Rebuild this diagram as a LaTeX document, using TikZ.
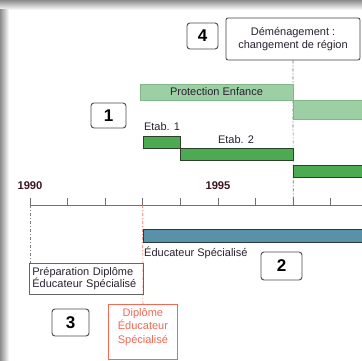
\documentclass[tikz,border=0pt]{standalone}
\usepackage{fontspec}
\setmainfont{Liberation Sans}
\usetikzlibrary{positioning}

\definecolor{palegreen}{RGB}{156,207,164}
\definecolor{palegreenedge}{RGB}{128,182,138}
\definecolor{etabgreen}{RGB}{76,170,80}
\definecolor{etabedge}{RGB}{45,62,45}
\definecolor{edublue}{RGB}{88,145,168}
\definecolor{eduedge}{RGB}{42,56,66}
\definecolor{diplred}{RGB}{243,104,84}
\definecolor{axisgray}{RGB}{112,112,112}
\definecolor{yearcol}{RGB}{62,22,34}
\definecolor{labelcol}{RGB}{40,34,48}

\begin{document}
\begin{tikzpicture}[x=1pt,y=-1pt,font=\fontsize{11}{13.5}\selectfont,text=labelcol,
  numbox/.style={draw=black!70,rounded corners=3pt,line width=0.9pt,inner sep=0pt,text=black,font=\fontsize{17}{17}\selectfont\bfseries},
  bar/.style={anchor=north west,inner sep=0pt,outer sep=0pt,line width=0.8pt},
  palebar/.style={bar,fill=palegreen,draw=palegreenedge},
  etabbar/.style={bar,fill=etabgreen,draw=etabedge},
  edubar/.style={bar,fill=edublue,draw=eduedge},
  yearlabel/.style={inner sep=0pt,text=yearcol,font=\fontsize{11.2}{12}\selectfont\bfseries},
  guide/.style={line width=0.7pt,dash pattern=on 3pt off 2pt on 1pt off 2pt}]

\useasboundingbox (0,0) rectangle (362,361);
\fill[white] (0,0) rectangle (362,361);
% frame shadow
\shade[top color=black!45,bottom color=white] (0,0) rectangle (362,10);
\shade[left color=black!45,right color=white] (0,10) rectangle (9,361);

% time axis
\foreach \i in {0,...,8} {
  \coordinate (yr\i) at (30+37.6*\i,205);
  \draw[axisgray,line width=0.8pt] (yr\i) -- ++(0,-7);
}
\coordinate (axisend) at (362,205);
\draw[axisgray,line width=0.8pt] (yr0) -- (axisend);
\draw[axisgray,line width=0.8pt] (yr0) -- ++(0,3);

\node[yearlabel] (y1990) at (30,186) {1990};
\node[yearlabel] (y1995) at (218,186) {1995};

% moving
\node[numbox,minimum width=31pt,minimum height=26pt] (num4) at (202.5,36) {4};
\node[draw=black!75,rounded corners=2pt,line width=0.8pt,minimum width=134pt,minimum height=42pt,align=center,inner sep=1pt] (demenag) at (293,39) {D\'em\'enagement :\\changement de r\'egion};
\draw[guide,black!60] (demenag.south) -- (yr7);

% bars
\node[palebar,minimum width=153pt,minimum height=16pt] (protec) at (140,84) {};
\node[inner sep=0pt] (protecl) at (protec.center) {Protection Enfance};
\node[palebar,minimum width=75pt,minimum height=19pt] (protec2) at (293,100) {};

\node[numbox,minimum width=35pt,minimum height=25pt] (num1) at (108.5,115.5) {1};

\node[etabbar,minimum width=37pt,minimum height=12pt] (etab1) at (143,136) {};
\node[etabbar,minimum width=113pt,minimum height=12pt] (etab2) at (180,148) {};
\node[etabbar,minimum width=75pt,minimum height=12pt] (etab3) at (293,165) {};
\node[inner sep=0pt] (etab1l) at (162,127) {Etab. 1};
\node[inner sep=0pt] (etab2l) at (236,140) {Etab. 2};

% diploma
\node[draw=diplred,line width=0.8pt,anchor=north west,minimum width=69pt,minimum height=55pt,inner sep=0pt] (diplbox) at (108,304) {};
\node[text=diplred,align=center,inner sep=0pt,below=4pt of diplbox.north] (dipl) {Dipl\^ome\\\'Educateur\\ Sp\'ecialis\'e};
\draw[guide,diplred] (yr3) -- (diplbox.north);

\node[edubar,minimum width=225pt,minimum height=13pt] (edu) at (143,229) {};
\node[anchor=west,inner sep=0pt] (edul) at (144,253) {\'Educateur Sp\'ecialis\'e};
\node[numbox,minimum width=41pt,minimum height=28pt] (num2) at (281.5,266) {2};

\node[draw=black!60,line width=0.8pt,anchor=north west,text width=108pt,align=left,inner xsep=3pt,minimum height=31pt,font=\fontsize{11}{12}\selectfont] (prep) at (29,263) {Pr\'eparation Dipl\^ome\\\'Educateur Sp\'ecialis\'e};
\draw[guide,black!50] (yr0) -- (yr0 |- prep.north);

\node[numbox,minimum width=37pt,minimum height=27pt] (num3) at (70.5,322.5) {3};

\end{tikzpicture}
\end{document}
